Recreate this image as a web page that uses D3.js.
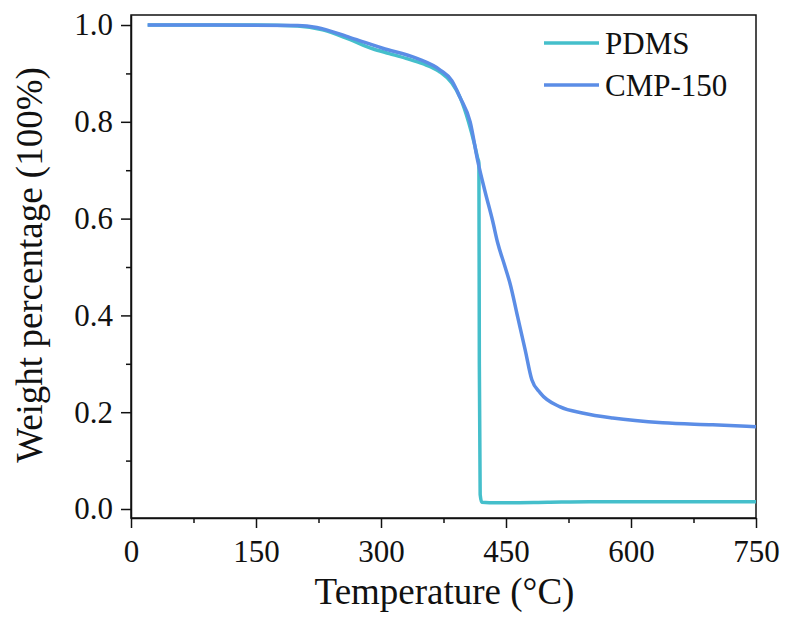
<!DOCTYPE html>
<html>
<head>
<meta charset="utf-8">
<script src="https://cdn.jsdelivr.net/npm/d3@7"></script>
<style>
body { margin: 0; background: #fff; }
svg, svg text { font-family: "Liberation Serif", "Times New Roman", serif; }
.axis path, .axis line { stroke: #111; stroke-width: 1.5; }
</style>
</head>
<body>
<svg id="chart" width="787" height="619"></svg>
<script>
// data
const pdmsTemp = [20, 50, 100, 150, 200, 230, 260, 290, 310, 330, 350, 370, 385, 395, 405, 412, 416, 417.5, 418, 419, 421, 430, 450, 500, 550, 600, 650, 700, 750]
const pdmsWeight = [1.0, 1.0, 1.0, 1.0, 0.998, 0.99, 0.972, 0.951, 0.941, 0.931, 0.92, 0.904, 0.88, 0.85, 0.8, 0.755, 0.725, 0.715, 0.3, 0.03, 0.014, 0.013, 0.013, 0.014, 0.015, 0.015, 0.015, 0.015, 0.015]
const cmpTemp = [20, 100, 200, 223, 263, 302, 343, 371, 385, 395, 407, 416, 425, 434, 440, 448, 455, 464, 473, 481, 491, 515, 543, 578, 638, 698, 750]
const cmpWeight = [1.0, 1.0, 0.999, 0.995, 0.974, 0.952, 0.931, 0.907, 0.885, 0.85, 0.8, 0.72, 0.655, 0.595, 0.55, 0.505, 0.465, 0.397, 0.329, 0.267, 0.24, 0.211, 0.198, 0.188, 0.178, 0.174, 0.170]
const seriesNames = ["PDMS", "CMP-150"]
const seriesColors = ["#45bfcb", "#5b8de6"]
const xTicks = [0, 150, 300, 450, 600, 750]
const yTicks = [0.0, 0.2, 0.4, 0.6, 0.8, 1.0]

const svg = d3.select("#chart")
const margin = {left: 131, top: 15, right: 31, bottom: 101}
const W = 787, H = 619
const serif = '"Liberation Serif", "Times New Roman", serif'

let xScale = d3.scaleLinear().domain([0, 750]).range([margin.left, W - margin.right])
let yScale = d3.scaleLinear().domain([-0.0186, 1.0207]).range([H - margin.bottom, margin.top])

// minor ticks first (no labels)
let xMinor = d3.range(75, 750, 150)
let yMinor = d3.range(0.1, 1.0, 0.2)

svg.append("g").attr("class", "axis")
    .attr("transform", `translate(0,${H - margin.bottom})`)
    .call(d3.axisBottom(xScale).tickValues(xMinor).tickSize(5).tickFormat(""))
    .call(g => g.select(".domain").remove())
svg.append("g").attr("class", "axis")
    .attr("transform", `translate(${margin.left},0)`)
    .call(d3.axisLeft(yScale).tickValues(yMinor).tickSize(5).tickFormat(""))
    .call(g => g.select(".domain").remove())

// major ticks
svg.append("g").attr("class", "axis")
    .attr("transform", `translate(0,${H - margin.bottom})`)
    .call(d3.axisBottom(xScale).tickValues(xTicks).tickSize(10).tickSizeOuter(0).tickPadding(12))
    .call(g => g.selectAll(".tick text").attr("dy", "0.72em").attr("fill", "#111")
        .style("font-family", serif).style("font-size", "31px"))
svg.append("g").attr("class", "axis")
    .attr("transform", `translate(${margin.left},0)`)
    .call(d3.axisLeft(yScale).tickValues(yTicks).tickSize(10).tickSizeOuter(0).tickPadding(8).tickFormat(d3.format(".1f")))
    .call(g => g.selectAll(".tick text").attr("fill", "#111")
        .style("font-family", serif).style("font-size", "31px"))

// frame
svg.append("rect")
    .attr("x", margin.left).attr("y", margin.top)
    .attr("width", W - margin.left - margin.right)
    .attr("height", H - margin.top - margin.bottom)
    .attr("fill", "none").attr("stroke", "#111").attr("stroke-width", 1.5)

// curves
let line = d3.line()
    .x(d => xScale(d[0]))
    .y(d => yScale(d[1]))
    .curve(d3.curveMonotoneX)

let series = [
    d3.zip(pdmsTemp, pdmsWeight),
    d3.zip(cmpTemp, cmpWeight)
]
series.forEach(function (d, i) {
    svg.append("path")
        .datum(d)
        .attr("d", line)
        .attr("fill", "none")
        .attr("stroke", seriesColors[i])
        .attr("stroke-width", 3.5)
        .attr("stroke-linejoin", "round")
})

// legend
seriesNames.forEach(function (d, i) {
    let lgnd = svg.append("g").attr("transform", `translate(544,${43 + i * 42})`)
    lgnd.append("line").attr("x1", 0).attr("x2", 55).attr("y1", 0).attr("y2", 0)
        .attr("stroke", seriesColors[i]).attr("stroke-width", 3.5)
    lgnd.append("text").attr("x", 61).attr("y", 11)
        .attr("font-size", 31).attr("fill", "#111").text(d)
})

// axis titles
svg.append("text")
    .attr("x", (margin.left + W - margin.right) / 2 + 1)
    .attr("y", 604)
    .attr("text-anchor", "middle")
    .attr("font-size", 37)
    .attr("fill", "#111")
    .text("Temperature (°C)")

svg.append("g")
    .attr("transform", `translate(42,${265}) rotate(-90)`)
    .append("text")
    .attr("text-anchor", "middle")
    .attr("font-size", 37)
    .attr("fill", "#111")
    .text("Weight percentage (100%)")
</script>
</body>
</html>
